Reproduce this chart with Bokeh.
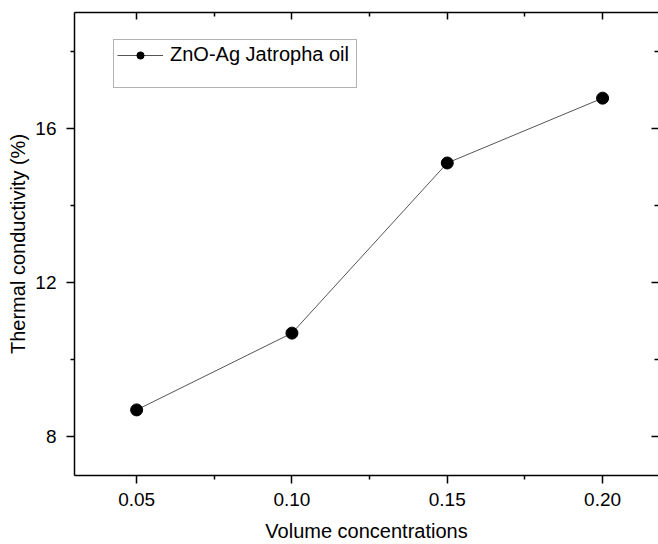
from bokeh.plotting import figure
from bokeh.models import (LinearAxis, FixedTicker, Range1d, Legend, LegendItem,
                          PrintfTickFormatter, CustomJSTickFormatter)
from bokeh.embed import file_html
from bokeh.resources import INLINE

volume = [0.05, 0.10, 0.15, 0.20]
conductivity = [8.70, 10.69, 15.10, 16.78]
x_ticks = [0.05, 0.10, 0.15, 0.20]
x_minor = [0.025, 0.075, 0.125, 0.175, 0.225]
y_ticks = [8, 12, 16]
y_minor = [10, 14, 18]
series_name = "ZnO-Ag Jatropha oil"
x_title = "Volume concentrations"
y_title = "Thermal conductivity (%)"

FONT = "Liberation Sans"

p = figure(width=658, height=544, output_backend="svg", toolbar_location=None,
           x_range=Range1d(0.03, 0.218), y_range=Range1d(7, 19),
           min_border_left=74, min_border_top=12, min_border_bottom=69,
           min_border_right=0)
p.outline_line_color = None
p.xgrid.grid_line_color = None
p.ygrid.grid_line_color = None
p.background_fill_color = "white"
p.border_fill_color = "white"

def style_axis(ax, labels=True, inward=False):
    ax.axis_line_color = "black"
    ax.axis_line_width = 1.5
    ax.major_tick_line_color = "black"
    ax.minor_tick_line_color = "black"
    ax.major_tick_line_width = 1.5
    ax.minor_tick_line_width = 1.5
    if inward:
        ax.major_tick_in = 7
        ax.major_tick_out = 0
        ax.minor_tick_in = 4
        ax.minor_tick_out = 0
    else:
        ax.major_tick_in = 0
        ax.major_tick_out = 8
        ax.minor_tick_in = 0
        ax.minor_tick_out = 4
    ax.major_label_text_font = FONT
    ax.major_label_text_font_size = "19px"
    ax.major_label_text_color = "black"
    ax.axis_label_text_font = FONT
    ax.axis_label_text_font_size = "20px"
    ax.axis_label_text_font_style = "normal"
    ax.axis_label_text_color = "black"
    if not labels:
        ax.formatter = CustomJSTickFormatter(code="return ''")
        ax.major_label_standoff = 0

xb = p.xaxis[0]
xb.ticker = FixedTicker(ticks=x_ticks, minor_ticks=x_minor)
xb.formatter = PrintfTickFormatter(format="%.2f")
xb.axis_label = x_title
style_axis(xb)
xb.major_label_standoff = 9
xb.axis_label_standoff = 11

yl = p.yaxis[0]
yl.ticker = FixedTicker(ticks=y_ticks, minor_ticks=y_minor)
yl.axis_label = y_title
style_axis(yl)
yl.major_label_standoff = 10
yl.axis_label_standoff = 3

xt = LinearAxis(ticker=FixedTicker(ticks=x_ticks, minor_ticks=x_minor))
style_axis(xt, labels=False, inward=True)
p.add_layout(xt, "above")

yr = LinearAxis(ticker=FixedTicker(ticks=y_ticks, minor_ticks=y_minor))
style_axis(yr, labels=False, inward=True)
yr.axis_line_color = None
p.add_layout(yr, "right")

ln = p.line(volume, conductivity, line_color="#555555", line_width=1)
sc = p.scatter(volume, conductivity, size=12, color="black")
dummy = p.line([], [], line_alpha=0)

legend = Legend(items=[LegendItem(label=series_name, renderers=[ln, sc]),
                       LegendItem(label=" ", renderers=[dummy])],
                location=(39, 387))
legend.border_line_color = "#666666"
legend.border_line_width = 1
legend.background_fill_color = "white"
legend.background_fill_alpha = 1
legend.label_text_font = FONT
legend.label_text_font_size = "20px"
legend.label_text_color = "black"
legend.glyph_width = 46
legend.glyph_height = 18
legend.label_height = 18
legend.label_width = 183
legend.label_standoff = 7
legend.padding = 3
legend.spacing = 0
legend.margin = 0
p.add_layout(legend)

open("out.html", "w").write(file_html(p, INLINE))
